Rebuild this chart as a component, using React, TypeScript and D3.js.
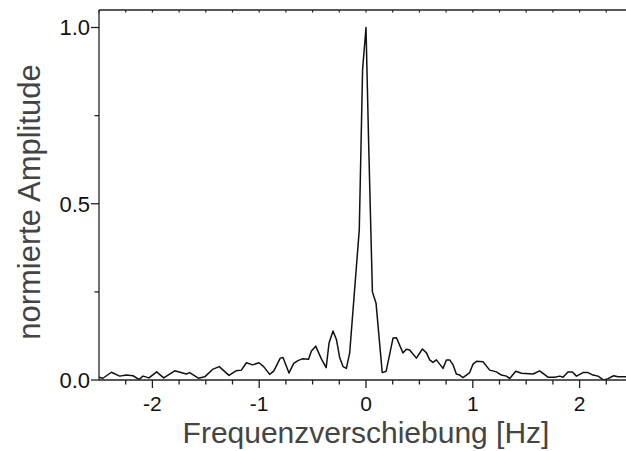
import React from "react";
import * as d3 from "d3";

const freq = [
  -2.5, -2.463, -2.384, -2.306, -2.243, -2.182, -2.125, -2.088, -2.032, -1.96,
  -1.894, -1.791, -1.682, -1.651, -1.57, -1.51, -1.432, -1.374, -1.283, -1.217,
  -1.167, -1.12, -1.061, -1.002, -0.958, -0.902, -0.864, -0.803, -0.777, -0.721,
  -0.677, -0.637, -0.597, -0.538, -0.511, -0.471, -0.418, -0.373, -0.346, -0.309,
  -0.277, -0.246, -0.215, -0.184, -0.153, -0.063, -0.032, 0.0, 0.025, 0.06,
  0.094, 0.152, 0.189, 0.253, 0.285, 0.346, 0.378, 0.409, 0.472, 0.528,
  0.566, 0.596, 0.627, 0.659, 0.721, 0.753, 0.784, 0.815, 0.846, 0.877,
  0.908, 0.971, 1.002, 1.034, 1.096, 1.158, 1.221, 1.268, 1.315, 1.346,
  1.402, 1.455, 1.564, 1.626, 1.704, 1.767, 1.814, 1.845, 1.891, 1.933,
  1.97, 2.032, 2.079, 2.125, 2.172, 2.226, 2.266, 2.319, 2.36, 2.432,
  2.47, 2.5,
];

const amp = [
  0.008, 0.005, 0.022, 0.011, 0.014, 0.012, 0.002, 0.011, 0.006, 0.023,
  0.006, 0.026, 0.017, 0.021, 0.005, 0.009, 0.031, 0.038, 0.013, 0.026,
  0.028, 0.049, 0.043, 0.049, 0.038, 0.016, 0.025, 0.062, 0.064, 0.02,
  0.047, 0.055, 0.06, 0.059, 0.082, 0.096, 0.06, 0.035, 0.105, 0.139,
  0.115, 0.063, 0.038, 0.033, 0.076, 0.426, 0.881, 1.0, 0.669, 0.25,
  0.218, 0.021, 0.025, 0.119, 0.12, 0.077, 0.087, 0.085, 0.062, 0.088,
  0.077, 0.057, 0.05, 0.057, 0.033, 0.057, 0.057, 0.043, 0.017, 0.014,
  0.007, 0.021, 0.045, 0.053, 0.052, 0.028, 0.023, 0.014, 0.011, 0.004,
  0.025, 0.019, 0.017, 0.026, 0.008, 0.008, 0.011, 0.008, 0.023, 0.023,
  0.011, 0.021, 0.021, 0.014, 0.011, 0.0, 0.004, 0.012, 0.009, 0.009,
  0.01, 0.008,
];

const xMajorTicks = [-2, -1, 0, 1, 2];
const xTickLabels = ["-2", "-1", "0", "1", "2"];
const xMinorTicks = [-2.25, -1.75, -1.5, -1.25, -0.75, -0.5, -0.25, 0.25, 0.5, 0.75, 1.25, 1.5, 1.75, 2.25];
const yMajorTicks = [0, 0.5, 1.0];
const yTickLabels = ["0.0", "0.5", "1.0"];
const yMinorTicks = [0.25, 0.75];

const xTitle = "Frequenzverschiebung [Hz]";
const yTitle = "normierte Amplitude";

const W = 626;
const H = 451;
const left = 99;
const right = 633;
const top = 10;
const bottom = 380;

export default function App() {
  const x = d3.scaleLinear().domain([-2.5, 2.5]).range([left, right]);
  const y = d3.scaleLinear().domain([0, 1.0]).range([bottom, 27.5]);
  const data = freq.map((f, i) => [f, amp[i]] as [number, number]);
  const line = d3
    .line<[number, number]>()
    .x((d) => x(d[0]))
    .y((d) => y(d[1]));

  const font = "'Liberation Sans', Arial, Helvetica, sans-serif";
  const axisColor = "#222";
  const allTopTicks = [...xMajorTicks, ...xMinorTicks, -2.5];

  return (
    <svg
      width={W}
      height={H}
      style={{ position: "absolute", left: 0, top: 0, background: "#fff" }}
      fontFamily={font}
    >
      <defs>
        <clipPath id="plotclip">
          <rect x={left} y={top} width={W - left} height={bottom - top} />
        </clipPath>
      </defs>
      <rect x={0} y={0} width={W} height={H} fill="#fff" />

      {/* data line */}
      <path
        d={line(data) || ""}
        fill="none"
        stroke="#111"
        strokeWidth={1.5}
        strokeLinejoin="round"
        clipPath="url(#plotclip)"
      />

      {/* frame */}
      <line x1={left} x2={left} y1={top} y2={bottom} stroke={axisColor} strokeWidth={1.3} />
      <line x1={left} x2={W} y1={bottom} y2={bottom} stroke={axisColor} strokeWidth={1.3} />
      <line x1={left} x2={W} y1={top} y2={top} stroke={axisColor} strokeWidth={1.3} />

      {/* top ticks */}
      {allTopTicks.map((t, i) => (
        <line key={"tt" + i} x1={x(t)} x2={x(t)} y1={top} y2={top + 2.5} stroke={axisColor} strokeWidth={1.2} />
      ))}

      {/* bottom ticks */}
      {xMajorTicks.map((t, i) => (
        <line key={"xm" + i} x1={x(t)} x2={x(t)} y1={bottom} y2={bottom + 8} stroke={axisColor} strokeWidth={1.3} />
      ))}
      {xMinorTicks.map((t, i) => (
        <line key={"xn" + i} x1={x(t)} x2={x(t)} y1={bottom} y2={bottom + 4.5} stroke={axisColor} strokeWidth={1.3} />
      ))}
      {xMajorTicks.map((t, i) => (
        <text key={"xl" + i} x={x(t)} y={411} textAnchor="middle" fontSize={21} fill="#111">
          {xTickLabels[i]}
        </text>
      ))}

      {/* left ticks */}
      {yMajorTicks.map((t, i) => (
        <line key={"ym" + i} x1={left - 8} x2={left} y1={y(t)} y2={y(t)} stroke={axisColor} strokeWidth={1.3} />
      ))}
      {yMinorTicks.map((t, i) => (
        <line key={"yn" + i} x1={left - 4.5} x2={left} y1={y(t)} y2={y(t)} stroke={axisColor} strokeWidth={1.3} />
      ))}
      {yMajorTicks.map((t, i) => (
        <text key={"yl" + i} x={left - 9} y={y(t) + 7.8} textAnchor="end" fontSize={22} fill="#111">
          {yTickLabels[i]}
        </text>
      ))}

      {/* titles */}
      <text x={x(0)} y={443} textAnchor="middle" fontSize={30} fill="#444">
        {xTitle}
      </text>
      <text
        transform={`translate(40, 202) rotate(-90)`}
        textAnchor="middle"
        fontSize={31}
        fill="#444"
      >
        {yTitle}
      </text>
    </svg>
  );
}
